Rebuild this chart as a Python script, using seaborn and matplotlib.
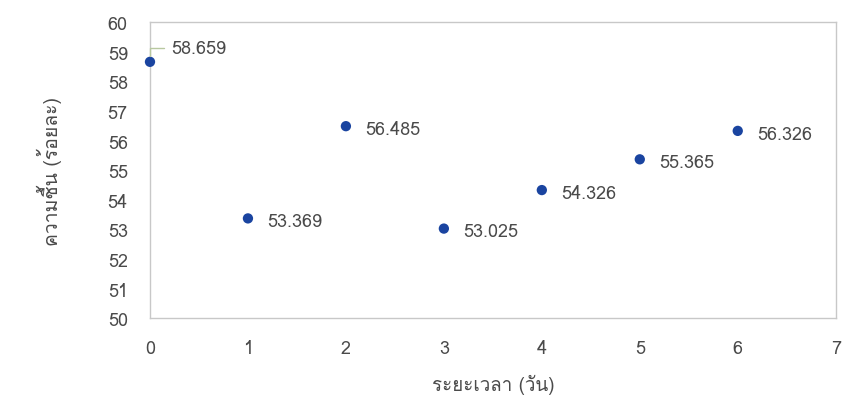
import matplotlib
matplotlib.use('Agg')
import matplotlib.pyplot as plt
import seaborn as sns
import pandas as pd
from matplotlib import font_manager

days = [0, 1, 2, 3, 4, 5, 6]
moisture = [58.659, 53.369, 56.485, 53.025, 54.326, 55.365, 56.326]
x_ticks = [0, 1, 2, 3, 4, 5, 6, 7]
y_ticks = [50, 51, 52, 53, 54, 55, 56, 57, 58, 59, 60]

sns.set_theme(style="white")

# look for any installed font that can draw Thai
thai_fonts = []
for f in font_manager.fontManager.ttflist:
    if 'Thai' in f.name or f.name in ('Loma', 'Garuda', 'Norasi', 'Kinnari', 'Waree', 'Sawasdee', 'Tlwg Typo'):
        if f.name not in thai_fonts:
            thai_fonts.append(f.name)
plt.rcParams['font.family'] = thai_fonts + ['DejaVu Sans']

df = pd.DataFrame({'day': days, 'moisture': moisture})
txt = '#4a4a4a'

fig = plt.figure(figsize=(8.45, 4.06), dpi=100)
ax = fig.add_axes([0.1775, 0.214, 0.8115, 0.729])
sns.scatterplot(data=df, x='day', y='moisture', ax=ax, color='#1a44a0',
                s=55, edgecolor='none', zorder=3, clip_on=False)

for d, m in zip(days, moisture):
    if d == 0:
        ax.annotate(f'{m:.3f}', xy=(d, m), xytext=(15, 10), textcoords='offset points',
                    fontsize=13, color=txt, va='center', ha='left')
        # short leader line like the spreadsheet callout
        ax.annotate('', xy=(d, m), xytext=(10, 10), textcoords='offset points',
                    arrowprops=dict(arrowstyle='-', color='#b8c8a0', lw=1,
                                    shrinkA=0, shrinkB=4,
                                    connectionstyle='angle,angleA=0,angleB=90,rad=0'))
    else:
        ax.annotate(f'{m:.3f}', xy=(d, m), xytext=(14, -2), textcoords='offset points',
                    fontsize=13, color=txt, va='center', ha='left')

ax.set_xlim(0, 7)
ax.set_ylim(50, 60)
ax.set_xticks(x_ticks)
ax.set_yticks(y_ticks)
ax.tick_params(axis='both', labelsize=13, labelcolor=txt, length=0)
ax.tick_params(axis='x', pad=15)
ax.tick_params(axis='y', pad=16)
ax.set_xlabel('ระยะเวลา (วัน)', fontsize=13.5, color=txt, labelpad=12)
ax.set_ylabel('ความชื้น (ร้อยละ)', fontsize=14, color=txt, labelpad=33)
for s in ax.spines.values():
    s.set_color('#c8c8c8')
    s.set_linewidth(1)

fig.savefig('out.png', dpi=100)
